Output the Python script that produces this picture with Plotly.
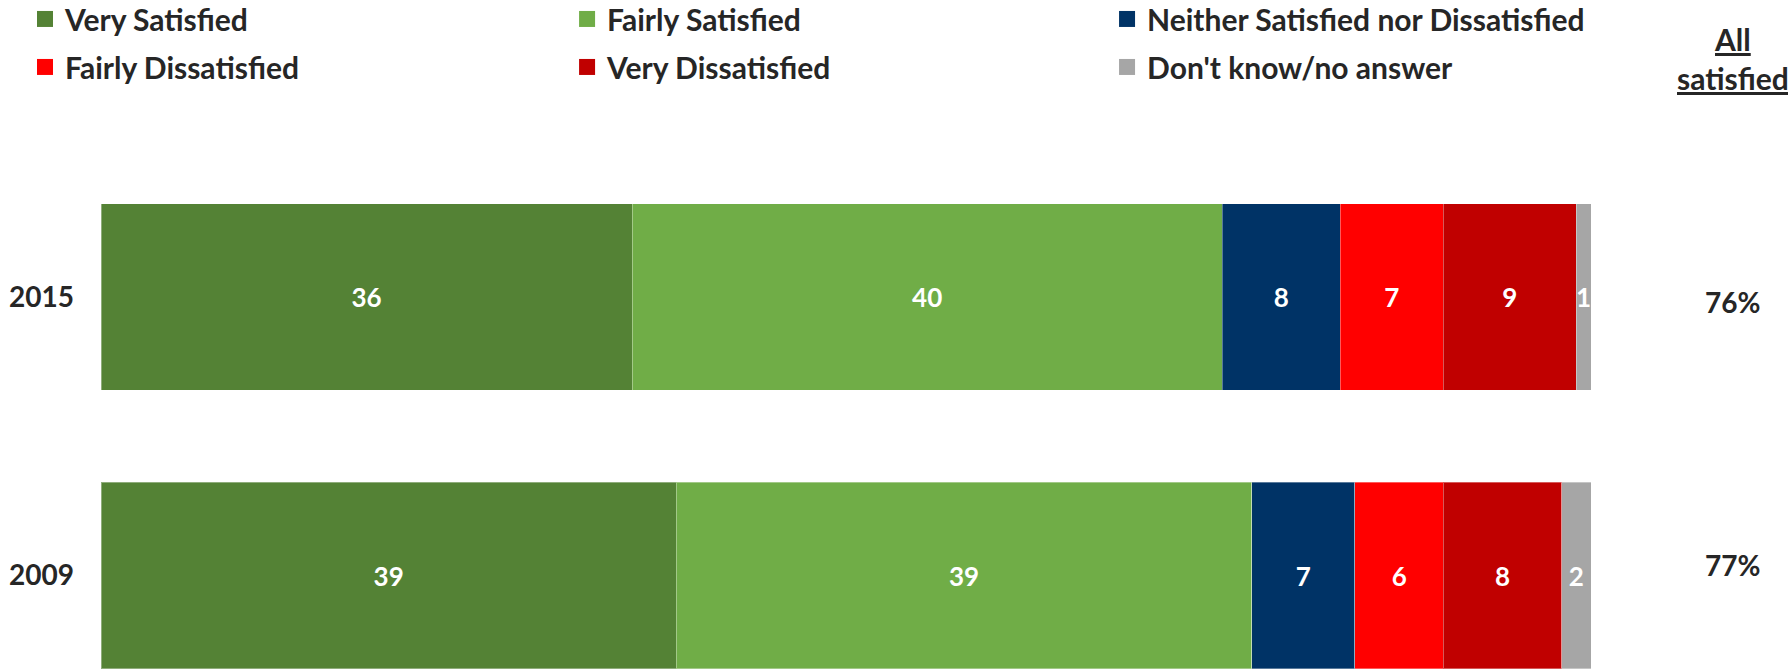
import plotly.graph_objects as go

# Survey results: share of respondents (%) by satisfaction level
years = ["2015", "2009"]
year_order = ["2009", "2015"]  # bottom to top
series_names = [
    "Very Satisfied",
    "Fairly Satisfied",
    "Neither Satisfied nor Dissatisfied",
    "Fairly Dissatisfied",
    "Very Dissatisfied",
    "Don't know/no answer",
]
very_satisfied = [36, 39]
fairly_satisfied = [40, 39]
neither = [8, 7]
fairly_dissatisfied = [7, 6]
very_dissatisfied = [9, 8]
dont_know = [1, 2]
all_satisfied = [76, 77]

series_values = [very_satisfied, fairly_satisfied, neither,
                 fairly_dissatisfied, very_dissatisfied, dont_know]
colors = ["#548235", "#70AD47", "#003366", "#FF0000", "#C00000", "#A6A6A6"]
# legend is laid out in three columns of two entries
legend_ids = ["legend", "legend2", "legend3", "legend", "legend2", "legend3"]

FONT = "Lato, 'Open Sans', sans-serif"
TEXT_COLOR = "#262626"

fig = go.Figure()

for name, vals, col in zip(series_names, series_values, colors):
    fig.add_trace(go.Bar(
        y=years, x=vals, name=name, orientation="h",
        marker=dict(color=col, line=dict(color="rgba(255,255,255,0.35)", width=1)),
        text=[str(v) for v in vals],
        textposition="inside", insidetextanchor="middle",
        constraintext="none",
        textfont=dict(family=FONT, size=26, color="white", weight="bold"),
        showlegend=False, hoverinfo="skip",
    ))

# legend entries with larger square swatches
for i, (name, col) in enumerate(zip(series_names, colors)):
    fig.add_trace(go.Scatter(
        x=[None], y=[None], mode="markers", name=name,
        marker=dict(symbol="square", size=16, color=col),
        legend=legend_ids[i], legendgroup=name, showlegend=True,
    ))

# "All satisfied" column (category axes take the category index here)
pct_shift = [-5, 11]
for yr, val, dy in zip(years, all_satisfied, pct_shift):
    fig.add_annotation(
        x=1.0953, xref="paper", y=year_order.index(yr), yref="y", yshift=dy,
        text=f"{val}%", showarrow=False, xanchor="center", yanchor="middle",
        font=dict(family=FONT, size=28, color=TEXT_COLOR, weight="bold"),
    )
fig.add_annotation(
    x=1.0953, xref="paper", y=1.175, yref="paper",
    text="All<br>satisfied", showarrow=False, xanchor="center", yanchor="middle",
    font=dict(family=FONT, size=30, color=TEXT_COLOR, weight="bold",
              lineposition="under"),
)

legend_style = dict(
    orientation="v", yanchor="top", xanchor="left", y=1.302,
    font=dict(family=FONT, size=30, color=TEXT_COLOR, weight="bold"),
    bgcolor="rgba(0,0,0,0)", borderwidth=0, tracegroupgap=6,
    itemsizing="trace", itemwidth=30,
)

fig.update_layout(
    width=1788, height=670,
    margin=dict(l=101, r=197, t=150, b=0, autoexpand=False),
    paper_bgcolor="white", plot_bgcolor="white",
    barmode="stack", bargap=0.332,
    legend=dict(x=-0.0510, **legend_style),
    legend2=dict(x=0.3128, **legend_style),
    legend3=dict(x=0.6752, **legend_style),
    xaxis=dict(range=[0, 101], visible=False, fixedrange=True),
    yaxis=dict(
        type="category", categoryorder="array", categoryarray=year_order,
        range=[-0.3393, 1.5278], showgrid=False, zeroline=False, showline=False,
        ticks="", ticklabelstandoff=26,
        tickfont=dict(family=FONT, size=28, color=TEXT_COLOR, weight="bold"),
    ),
)

fig.write_html("out.html")
